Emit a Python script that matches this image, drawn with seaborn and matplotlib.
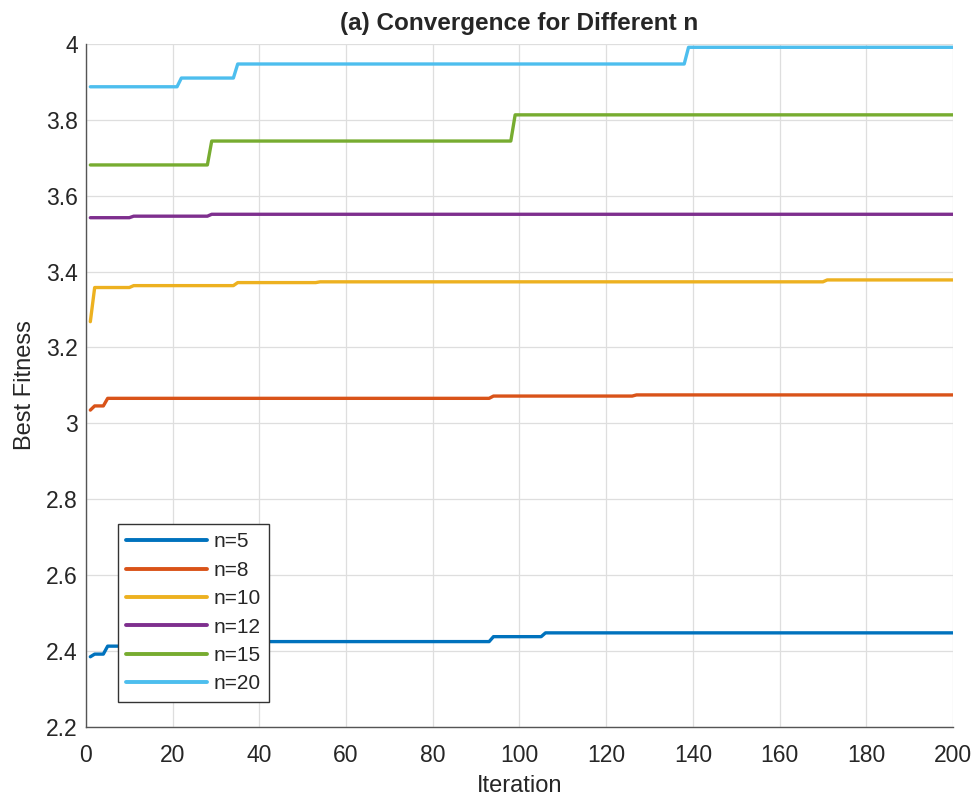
import numpy as np
import pandas as pd
import matplotlib
matplotlib.use('Agg')
import matplotlib.pyplot as plt
import seaborn as sns

# best fitness per run, stored as (iteration where the value starts, value)
n_labels = ['n=5', 'n=8', 'n=10', 'n=12', 'n=15', 'n=20']
start_n5 = [1, 2, 5, 20, 94, 106]
best_n5 = [2.385, 2.392, 2.413, 2.425, 2.438, 2.448]
start_n8 = [1, 2, 5, 94, 127]
best_n8 = [3.035, 3.046, 3.066, 3.072, 3.075]
start_n10 = [1, 2, 11, 35, 54, 171]
best_n10 = [3.268, 3.358, 3.363, 3.371, 3.373, 3.378]
start_n12 = [1, 11, 29]
best_n12 = [3.542, 3.546, 3.551]
start_n15 = [1, 29, 99]
best_n15 = [3.681, 3.744, 3.813]
start_n20 = [1, 22, 35, 139]
best_n20 = [3.887, 3.910, 3.947, 3.991]
n_iter = 200

starts = [start_n5, start_n8, start_n10, start_n12, start_n15, start_n20]
bests = [best_n5, best_n8, best_n10, best_n12, best_n15, best_n20]

# expand the best-so-far values to every iteration
iters = np.arange(1, n_iter + 1)
frames = []
for lab, st, bv in zip(n_labels, starts, bests):
    idx = np.searchsorted(st, iters, side='right') - 1
    frames.append(pd.DataFrame({'Iteration': iters,
                                'Best Fitness': np.array(bv)[idx],
                                'n': lab}))
data = pd.concat(frames, ignore_index=True)

palette = ['#0072BD', '#D95319', '#EDB120', '#7E2F8E', '#77AC30', '#4DBEEE']

sns.set_style('white')
plt.rcParams['font.family'] = ['Liberation Sans', 'DejaVu Sans']

fig = plt.figure(figsize=(9.75, 7.98), dpi=100)
ax = fig.add_axes([0.0882, 0.089, 0.8892, 0.856])

sns.lineplot(data=data, x='Iteration', y='Best Fitness', hue='n',
             hue_order=n_labels, palette=palette, linewidth=2.4, ax=ax)

ax.set_xlim(0, 200)
ax.set_ylim(2.2, 4.0)
ax.set_xticks(np.arange(0, 201, 20))
ax.set_yticks(np.arange(2.2, 4.01, 0.2))
ax.set_yticklabels(['2.2', '2.4', '2.6', '2.8', '3', '3.2', '3.4', '3.6', '3.8', '4'])
ax.grid(True, color='#dedede', linewidth=0.9)
ax.set_axisbelow(True)
for side in ['top', 'right']:
    ax.spines[side].set_visible(False)
for side in ['left', 'bottom']:
    ax.spines[side].set_color('#555555')
    ax.spines[side].set_linewidth(1.0)
ax.tick_params(direction='in', length=7, width=1.3, color='#262626',
               labelsize=16.5, labelcolor='#262626')
ax.tick_params(axis='x', pad=12)
ax.tick_params(axis='y', pad=6)
ax.set_xlabel('Iteration', fontsize=17, color='#262626', labelpad=6)
ax.set_ylabel('Best Fitness', fontsize=17, color='#262626', labelpad=7)
ax.set_title('(a) Convergence for Different n', fontsize=17.5, fontweight='bold',
             pad=10)

leg = ax.legend(loc='lower left', bbox_to_anchor=(0.037, 0.037), fontsize=15,
                frameon=True, fancybox=False, framealpha=1, edgecolor='#333333',
                handlelength=3.85, handletextpad=0.32, labelspacing=0.45,
                borderpad=0.4, borderaxespad=0)
leg.get_frame().set_linewidth(1.0)
for h in leg.get_lines():
    h.set_linewidth(2.8)

fig.savefig('out.png', dpi=100)
